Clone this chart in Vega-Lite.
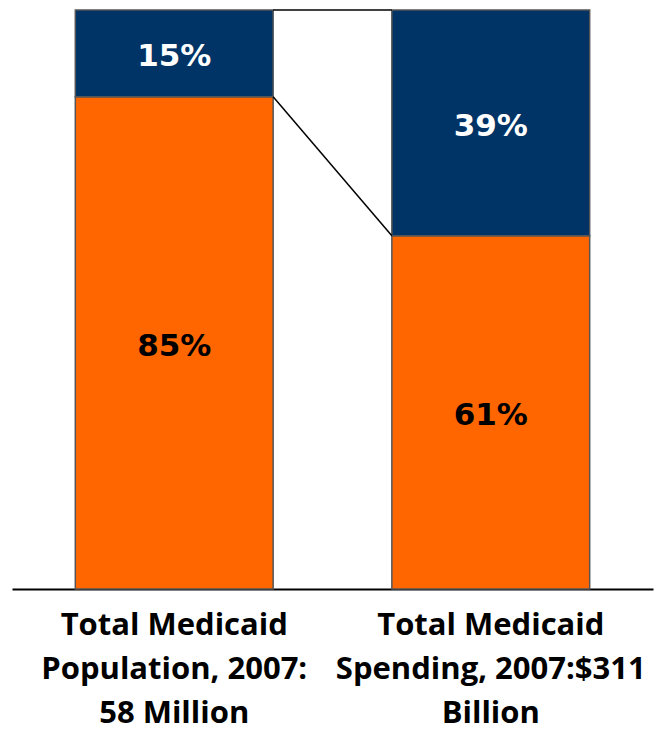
{
  "$schema": "https://vega.github.io/schema/vega-lite/v6.json",
  "width": 641,
  "height": 579,
  "autosize": {"type": "none"},
  "padding": {"left": 12, "top": 10, "right": 9, "bottom": 142},
  "background": "white",
  "config": {"view": {"stroke": null}},
  "datasets": {
    "bars": [
      {"category": "Total Medicaid|Population, 2007:|58 Million", "group": "Other", "value": 85, "start": 0, "end": 85},
      {"category": "Total Medicaid|Population, 2007:|58 Million", "group": "Top", "value": 15, "start": 85, "end": 100},
      {"category": "Total Medicaid|Spending, 2007:$311|Billion", "group": "Other", "value": 61, "start": 0, "end": 61},
      {"category": "Total Medicaid|Spending, 2007:$311|Billion", "group": "Top", "value": 39, "start": 61, "end": 100}
    ],
    "links": [
      {"from": "Total Medicaid|Population, 2007:|58 Million", "to": "Total Medicaid|Spending, 2007:$311|Billion", "y1": 100, "y2": 100},
      {"from": "Total Medicaid|Population, 2007:|58 Million", "to": "Total Medicaid|Spending, 2007:$311|Billion", "y1": 85, "y2": 61}
    ]
  },
  "layer": [
    {
      "data": {"name": "bars"},
      "mark": {"type": "bar", "stroke": "#555555", "strokeWidth": 1.5},
      "encoding": {
        "x": {
          "field": "category", "type": "nominal", "sort": null,
          "scale": {"paddingInner": 0.375, "paddingOuter": 0.2},
          "axis": {
            "title": null, "ticks": false, "domainColor": "black", "domainWidth": 2,
            "labelAngle": 0, "labelFont": "Open Sans", "labelFontWeight": "bold",
            "labelFontSize": 31, "labelColor": "black", "labelPadding": 21,
            "labelLineHeight": 44, "labelLimit": 400,
            "labelExpr": "split(datum.label, '|')"
          }
        },
        "y": {"field": "start", "type": "quantitative", "scale": {"domain": [0, 100]}, "axis": null},
        "y2": {"field": "end"},
        "color": {
          "field": "group", "type": "nominal",
          "scale": {"domain": ["Other", "Top"], "range": ["#FF6600", "#003366"]},
          "legend": null
        }
      }
    },
    {
      "data": {"name": "bars"},
      "transform": [
        {"calculate": "(datum.start + datum.end) / 2", "as": "mid"},
        {"calculate": "datum.value + '%'", "as": "label"}
      ],
      "mark": {"type": "text", "font": "DejaVu Sans", "fontWeight": "bold", "fontSize": 31, "letterSpacing": 1.5, "baseline": "middle", "dy": 4},
      "encoding": {
        "x": {"field": "category", "type": "nominal", "sort": null},
        "y": {"field": "mid", "type": "quantitative"},
        "text": {"field": "label", "type": "nominal"},
        "color": {"condition": {"test": "datum.group === 'Top'", "value": "white"}, "value": "black"}
      }
    },
    {
      "data": {"name": "links"},
      "mark": {"type": "rule", "color": "black", "strokeWidth": 1.5},
      "encoding": {
        "x": {"field": "from", "type": "nominal", "sort": null, "bandPosition": 1},
        "x2": {"field": "to", "bandPosition": 0},
        "y": {"field": "y1", "type": "quantitative"},
        "y2": {"field": "y2"}
      }
    }
  ]
}
